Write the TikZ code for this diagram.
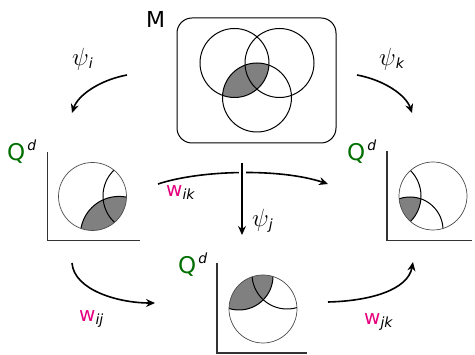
\documentclass[tikz,border=0pt]{standalone}
\usepackage{fontspec}
\newfontfamily\dejavu{DejaVu Sans}
\usepackage{xcolor}
\usepackage{tikz}
\usetikzlibrary{arrows.meta,positioning}
\definecolor{qgreen}{RGB}{0,110,0}
\definecolor{wpink}{RGB}{230,0,126}
\newcommand{\subsf}[1]{\raisebox{-3pt}{\dejavu\itshape\fontsize{14}{14}\selectfont #1}}
\newcommand{\qdlabel}{{\color{qgreen}Q}\hspace{2pt}\raisebox{10pt}{\dejavu\itshape\fontsize{14}{14}\selectfont d}}

\begin{document}
\begin{tikzpicture}[x=1pt,y=-1pt,
  map/.style={line width=1.6pt, -{Stealth[length=9pt,width=8pt,inset=3pt]}},
  setline/.style={line width=1pt},
  rim/.style={line width=0.7pt, black!70},
  axis/.style={line width=1.1pt, black!80},
  lens/.style={fill=black!50},
  qlabel/.style={font=\dejavu\fontsize{23}{23}\selectfont, anchor=base west, inner sep=0pt},
  psilabel/.style={font=\fontsize{25}{25}\selectfont, anchor=base west, inner sep=0pt},
  wlabel/.style={font=\dejavu\fontsize{20}{20}\selectfont, anchor=base west, inner sep=0pt}]
\useasboundingbox (0,0) rectangle (475,355);

\node[draw, line width=1pt, rounded corners=15pt, minimum width=159pt, minimum height=125pt] (mbox) at (256.5,80.5) {};
\node[font=\dejavu\fontsize{22}{22}\selectfont, anchor=base west, inner sep=0pt] (mlabel) at (146,28) {M};
\begin{scope}
\clip (234.5,63) circle (34.5);
\fill[lens] (257,97.5) circle (34.5);
\end{scope}
\draw[setline] (234.5,63) circle (34.5);
\draw[setline] (279.5,63) circle (34.5);
\draw[setline] (257,97.5) circle (34.5);

\draw[axis] (47.5,152) -- (47.5,240.5) -- (140,240.5);
\begin{scope}
\clip (92.5,196.5) circle (34);
\fill[lens] (119,235) circle (38.6);
\draw[setline] (119,235) circle (38.6);
\draw[setline] (139,196) circle (36);
\end{scope}
\draw[rim] (92.5,196.5) circle (34);
\node[qlabel] (qi) at (7,161) {\qdlabel};

\draw[axis] (387,151) -- (387,240.5) -- (472,240.5);
\begin{scope}
\clip (433,196) circle (34);
\clip (385,196) circle (36);
\fill[lens] (410,230) circle (33);
\end{scope}
\begin{scope}
\clip (433,196) circle (34);
\draw[setline] (385,196) circle (36);
\draw[setline] (410,230) circle (33);
\end{scope}
\draw[rim] (433,196) circle (34);
\node[qlabel] (qk) at (347,161) {\qdlabel};

\draw[axis] (217,263) -- (217,353) -- (307,353);
\begin{scope}
\clip (263,309) circle (34);
\fill[lens] (239,276) circle (34);
\draw[setline] (239,276) circle (34);
\draw[setline] (287,274) circle (35);
\end{scope}
\draw[rim] (263,309) circle (34);
\node[qlabel] (qj) at (178,274) {\qdlabel};

\coordinate (psii from) at (127,75);
\coordinate (psii to) at (72,113);
\coordinate (psik from) at (357,75);
\coordinate (psik to) at (412,113);
\coordinate (psij from) at (242,163);
\coordinate (psij to) at (242,235);
\coordinate (wik from) at (158,184);
\coordinate (wik to) at (328,184);
\coordinate (wij from) at (72,263);
\coordinate (wij to) at (155,303);
\coordinate (wjk from) at (328,302);
\coordinate (wjk to) at (413,262);

\draw[map] (psii from) .. controls (100,80) and (78,95) .. (psii to);
\draw[map] (psik from) .. controls (384,80) and (406,95) .. (psik to);
\draw[map] (wik from) .. controls (200,170) and (280,168) .. (wik to);
\draw[map, preaction={draw, white, line width=7pt, -}] (psij from) -- (psij to);
\draw[map] (wij from) .. controls (74,290) and (118,303) .. (wij to);
\draw[map] (wjk from) .. controls (370,301) and (408,290) .. (wjk to);

\node[psilabel] (psii) at (72,66) {$\psi$\subsf{i}};
\node[psilabel] (psik) at (379,66) {$\psi$\subsf{k}};
\node[psilabel] (psij) at (252,227) {$\psi$\subsf{j}};
\node[wlabel] (wik) at (166,197) {{\color{wpink}w}\subsf{ik}};
\node[wlabel] (wij) at (79,322) {{\color{wpink}w}\subsf{ij}};
\node[wlabel] (wjk) at (364,325) {{\color{wpink}w}\subsf{jk}};
\end{tikzpicture}
\end{document}
